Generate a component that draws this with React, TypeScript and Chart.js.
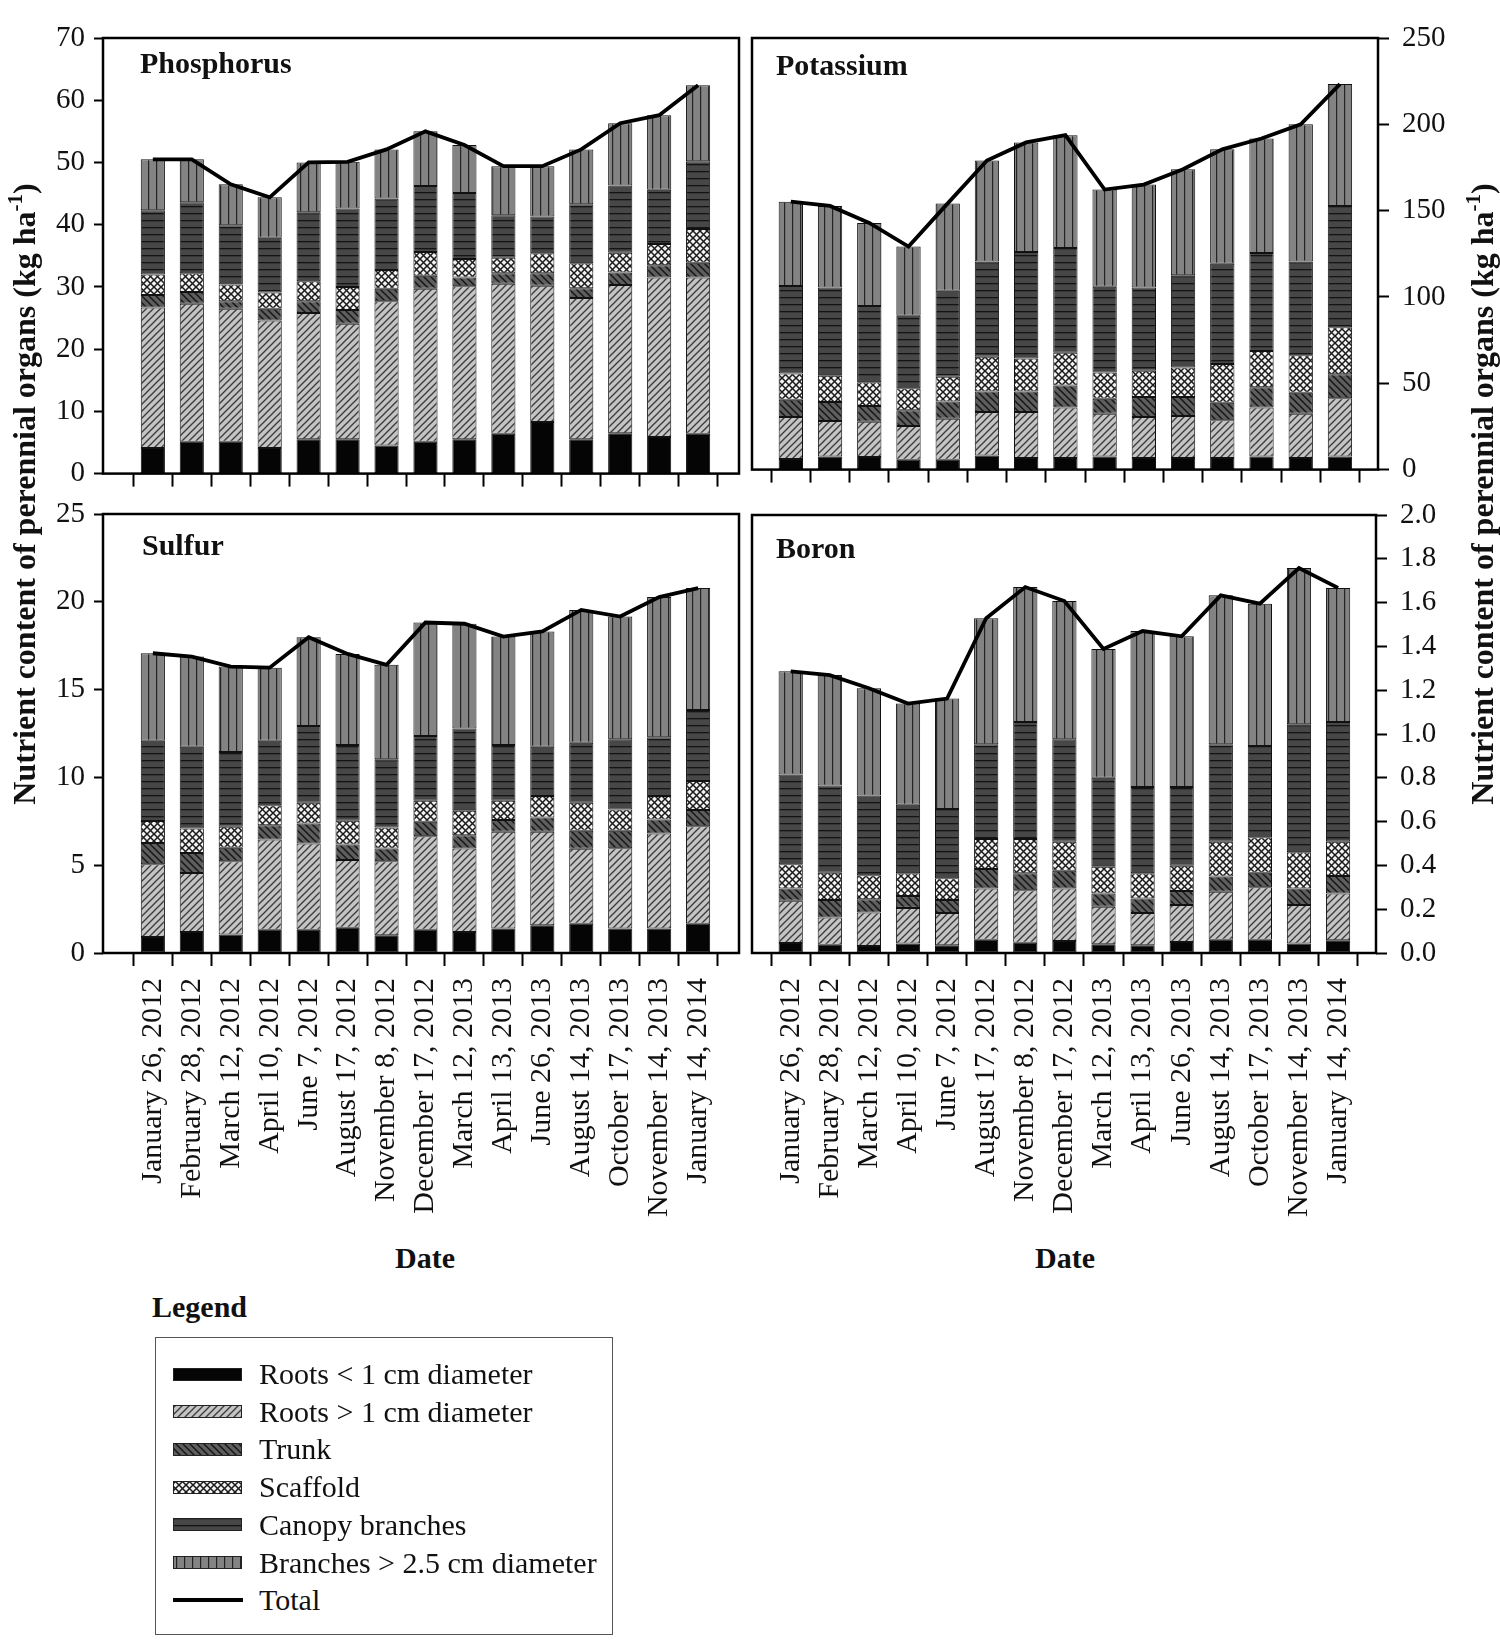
import React, { useEffect, useRef } from "react";
import { Chart, registerables } from "chart.js";
Chart.register(...registerables);

const dates = [
  "January 26, 2012", "February 28, 2012", "March 12, 2012", "April 10, 2012", "June 7, 2012",
  "August 17, 2012", "November 8, 2012", "December 17, 2012", "March 12, 2013", "April 13, 2013",
  "June 26, 2013", "August 14, 2013", "October 17, 2013", "November 14, 2013", "January 14, 2014",
];

const organNames = [
  "Roots < 1 cm diameter", "Roots > 1 cm diameter", "Trunk", "Scaffold",
  "Canopy branches", "Branches > 2.5 cm diameter",
];
const totalName = "Total";

// Phosphorus (kg ha-1)
const pFineRoots = [4.1, 5.1, 5.1, 4.1, 5.5, 5.5, 4.5, 5.1, 5.5, 6.4, 8.3, 5.5, 6.5, 5.9, 6.4];
const pCoarseRoots = [22.6, 22.2, 21.4, 20.5, 20.3, 18.6, 23.2, 24.6, 24.6, 24.1, 21.9, 22.7, 23.8, 25.6, 25.1];
const pTrunk = [2.0, 1.9, 1.2, 1.9, 1.9, 2.2, 2.0, 2.1, 1.4, 1.7, 2.0, 1.6, 2.0, 2.0, 2.4];
const pScaffold = [3.3, 3.0, 2.7, 2.6, 3.2, 3.7, 3.0, 3.8, 3.0, 2.5, 3.2, 4.0, 3.2, 3.4, 5.4];
const pCanopy = [10.3, 11.4, 9.5, 8.8, 11.1, 12.6, 11.5, 10.6, 10.6, 6.8, 5.9, 9.5, 10.8, 8.7, 10.9];
const pBranches = [8.2, 6.9, 6.6, 6.5, 8.0, 7.5, 7.9, 8.8, 7.7, 7.9, 8.1, 8.8, 10.0, 12.0, 12.2];
const pTotal = [50.5, 50.5, 46.5, 44.4, 50.0, 50.1, 52.1, 55.0, 52.8, 49.4, 49.4, 52.1, 56.3, 57.6, 62.4];

// Potassium (kg ha-1)
const kFineRoots = [6.1, 7.6, 7.3, 5.7, 5.7, 8.2, 6.7, 6.7, 7.6, 6.7, 6.7, 6.7, 7.6, 6.7, 7.6];
const kCoarseRoots = [24.4, 20.5, 20.4, 19.5, 23.7, 25.2, 26.7, 29.2, 24.8, 23.8, 24.4, 21.9, 28.3, 25.7, 33.8];
const kTrunk = [10.0, 11.0, 9.1, 9.2, 10.1, 11.8, 11.8, 12.8, 8.6, 11.5, 10.9, 10.1, 11.8, 12.1, 13.9];
const kScaffold = [15.2, 15.3, 13.8, 12.7, 14.3, 20.1, 19.1, 19.0, 15.3, 15.3, 17.2, 22.4, 21.0, 21.7, 27.1];
const kCanopy = [50.6, 51.1, 44.2, 42.0, 49.8, 55.3, 61.7, 60.7, 49.6, 48.2, 53.4, 58.2, 56.7, 54.4, 70.3];
const kBranches = [48.9, 47.2, 48.1, 40.1, 50.6, 58.4, 63.5, 65.3, 56.3, 59.6, 61.4, 66.2, 66.4, 79.4, 70.6];
const kTotal = [155.2, 152.7, 142.9, 129.2, 154.2, 179.0, 189.5, 193.7, 162.2, 165.1, 174.0, 185.5, 191.8, 200.0, 223.3];

// Sulfur (kg ha-1)
const sFineRoots = [0.91, 1.2, 1.06, 1.33, 1.33, 1.44, 1.01, 1.33, 1.2, 1.39, 1.58, 1.67, 1.39, 1.39, 1.67];
const sCoarseRoots = [4.15, 3.36, 4.17, 5.13, 4.91, 3.85, 4.22, 5.32, 4.75, 5.51, 5.32, 4.26, 4.58, 5.42, 5.55];
const sTrunk = [1.21, 1.14, 0.76, 0.82, 1.14, 0.89, 0.72, 0.82, 0.76, 0.67, 0.82, 1.03, 0.99, 0.79, 0.92];
const sScaffold = [1.24, 1.39, 1.2, 1.14, 1.18, 1.35, 1.2, 1.2, 1.39, 1.1, 1.22, 1.6, 1.21, 1.34, 1.65];
const sCanopy = [4.58, 4.66, 4.25, 3.67, 4.37, 4.31, 3.88, 3.69, 4.69, 3.17, 2.81, 3.42, 4.0, 3.34, 4.05];
const sBranches = [4.98, 5.13, 4.87, 4.16, 5.05, 5.19, 5.38, 6.46, 5.96, 6.18, 6.56, 7.56, 6.99, 7.99, 6.94];
const sTotal = [17.07, 16.88, 16.31, 16.25, 17.98, 17.03, 16.41, 18.82, 18.75, 18.02, 18.31, 19.54, 19.16, 20.27, 20.78];

// Boron (kg ha-1)
const bFineRoots = [0.046, 0.038, 0.032, 0.043, 0.035, 0.061, 0.047, 0.055, 0.04, 0.035, 0.05, 0.061, 0.061, 0.043, 0.058];
const bCoarseRoots = [0.193, 0.124, 0.153, 0.163, 0.148, 0.234, 0.24, 0.24, 0.171, 0.148, 0.169, 0.219, 0.239, 0.176, 0.214];
const bTrunk = [0.056, 0.08, 0.061, 0.054, 0.059, 0.089, 0.077, 0.081, 0.061, 0.066, 0.064, 0.069, 0.067, 0.076, 0.08];
const bScaffold = [0.11, 0.125, 0.109, 0.104, 0.099, 0.137, 0.157, 0.132, 0.122, 0.115, 0.115, 0.159, 0.162, 0.165, 0.156];
const bCanopy = [0.41, 0.398, 0.364, 0.313, 0.316, 0.432, 0.534, 0.468, 0.406, 0.394, 0.36, 0.445, 0.416, 0.584, 0.547];
const bBranches = [0.471, 0.504, 0.49, 0.462, 0.505, 0.576, 0.616, 0.631, 0.588, 0.712, 0.688, 0.68, 0.65, 0.714, 0.612];
const bTotal = [1.286, 1.269, 1.209, 1.139, 1.162, 1.529, 1.671, 1.607, 1.388, 1.47, 1.446, 1.633, 1.595, 1.758, 1.667];

const SERIF = '"Liberation Serif", "Times New Roman", serif';

type Kind = "solid" | "fwd" | "back" | "cross" | "horiz" | "vert";
const organKinds: Kind[] = ["solid", "fwd", "back", "cross", "horiz", "vert"];

function makeFill(kind: Kind): CanvasPattern | string {
  if (kind === "solid") return "#050505";
  const w = kind === "vert" ? 8 : kind === "horiz" ? 4 : 7;
  const h = kind === "horiz" ? 7 : kind === "vert" ? 4 : 7;
  const c = document.createElement("canvas");
  c.width = w;
  c.height = h;
  const g = c.getContext("2d")!;
  const bg: Record<string, string> = {
    fwd: "#c4c4c4", back: "#5e5e5e", cross: "#f2f2f2", horiz: "#474747", vert: "#838383",
  };
  g.fillStyle = bg[kind];
  g.fillRect(0, 0, w, h);
  g.lineCap = "square";
  const line = (x1: number, y1: number, x2: number, y2: number) => {
    g.beginPath();
    g.moveTo(x1, y1);
    g.lineTo(x2, y2);
    g.stroke();
  };
  if (kind === "fwd" || kind === "cross") {
    g.strokeStyle = kind === "fwd" ? "#3a3a3a" : "#1a1a1a";
    g.lineWidth = kind === "fwd" ? 1.3 : 1.5;
    line(0, h, w, 0);
    line(-1, 1, 1, -1);
    line(w - 1, h + 1, w + 1, h - 1);
  }
  if (kind === "back" || kind === "cross") {
    g.strokeStyle = kind === "back" ? "#161616" : "#1a1a1a";
    g.lineWidth = 1.5;
    line(0, 0, w, h);
    line(-1, h - 1, 1, h + 1);
    line(w - 1, -1, w + 1, 1);
  }
  if (kind === "horiz") {
    g.fillStyle = "#141414";
    g.fillRect(0, 3, w, 1.3);
  }
  if (kind === "vert") {
    g.fillStyle = "#242424";
    g.fillRect(4, 0, 1.2, h);
  }
  return g.createPattern(c, "repeat")!;
}

interface PanelCfg {
  title: string;
  organs: number[][];
  total: number[];
  yMax: number;
  yStep: number;
  yDec: number;
  yPos: "left" | "right";
  xMin: number;
  xMax: number;
  showLabels: boolean;
  left: number;
  top: number;
  width: number;
  height: number;
  pad: { left: number; right: number; top: number; bottom: number };
  yWidth: number;
  xHeight: number;
  titleDx: number;
  titleDy: number;
}

const panels: PanelCfg[] = [
  {
    title: "Phosphorus",
    organs: [pFineRoots, pCoarseRoots, pTrunk, pScaffold, pCanopy, pBranches],
    total: pTotal, yMax: 70, yStep: 10, yDec: 0, yPos: "left", xMin: -1.28, xMax: 15.05, showLabels: false,
    left: 0, top: 0, width: 750, height: 500, pad: { left: 0, right: 11, top: 38, bottom: 0 },
    yWidth: 103, xHeight: 25, titleDx: 37, titleDy: 35,
  },
  {
    title: "Potassium",
    organs: [kFineRoots, kCoarseRoots, kTrunk, kScaffold, kCanopy, kBranches],
    total: kTotal, yMax: 250, yStep: 50, yDec: 0, yPos: "right", xMin: -0.99, xMax: 14.97, showLabels: false,
    left: 740, top: 0, width: 760, height: 500, pad: { left: 12, right: 0, top: 38, bottom: 0 },
    yWidth: 122, xHeight: 25, titleDx: 24, titleDy: 37,
  },
  {
    title: "Sulfur",
    organs: [sFineRoots, sCoarseRoots, sTrunk, sScaffold, sCanopy, sBranches],
    total: sTotal, yMax: 25, yStep: 5, yDec: 0, yPos: "left", xMin: -1.28, xMax: 15.05, showLabels: true,
    left: 0, top: 470, width: 750, height: 770, pad: { left: 0, right: 11, top: 44, bottom: 0 },
    yWidth: 103, xHeight: 287, titleDx: 39, titleDy: 41,
  },
  {
    title: "Boron",
    organs: [bFineRoots, bCoarseRoots, bTrunk, bScaffold, bCanopy, bBranches],
    total: bTotal, yMax: 2.0, yStep: 0.2, yDec: 1, yPos: "right", xMin: -0.99, xMax: 14.97, showLabels: true,
    left: 740, top: 470, width: 760, height: 770, pad: { left: 12, right: 0, top: 45, bottom: 0 },
    yWidth: 124, xHeight: 287, titleDx: 24, titleDy: 43,
  },
];

function Panel({ cfg }: { cfg: PanelCfg }) {
  const ref = useRef<HTMLCanvasElement>(null);
  useEffect(() => {
    const fills = organKinds.map(makeFill);
    const datasets: any[] = [
      {
        type: "line",
        label: totalName,
        data: cfg.total.map((v, i) => ({ x: i, y: v })),
        borderColor: "#000",
        borderWidth: 3.8,
        pointRadius: 0,
        tension: 0,
        fill: false,
        stack: "total",
        order: 0,
      },
      ...cfg.organs.map((vals, k) => ({
        type: "bar",
        label: organNames[k],
        data: vals.map((v, i) => ({ x: i, y: v })),
        backgroundColor: fills[k],
        borderColor: "#111",
        borderWidth: 1,
        borderSkipped: false,
        stack: "organs",
        barPercentage: 1,
        categoryPercentage: 0.62,
        order: 1,
      })),
    ];
    const left = cfg.yPos === "left";
    const framePlugin = {
      id: "frame",
      afterDraw(chart: any) {
        const { ctx, chartArea: a } = chart;
        ctx.save();
        ctx.strokeStyle = "#000";
        ctx.lineWidth = 2.5;
        ctx.strokeRect(a.left, a.top, a.right - a.left, a.bottom - a.top);
        ctx.font = `bold 30px ${SERIF}`;
        ctx.fillStyle = "#111";
        ctx.textBaseline = "alphabetic";
        ctx.textAlign = "left";
        ctx.fillText(cfg.title, a.left + cfg.titleDx, a.top + cfg.titleDy);
        ctx.restore();
      },
    };
    const chart = new Chart(ref.current!, {
      type: "bar",
      data: { datasets },
      options: {
        responsive: false,
        maintainAspectRatio: false,
        animation: false,
        devicePixelRatio: 1,
        layout: { padding: cfg.pad },
        plugins: { legend: { display: false }, tooltip: { enabled: false }, title: { display: false } },
        scales: {
          x: {
            type: "linear",
            min: cfg.xMin,
            max: cfg.xMax,
            stacked: true,
            offset: false,
            afterBuildTicks: (s: any) => {
              s.ticks = dates.map((_, i) => ({ value: i }));
            },
            afterFit: (s: any) => {
              s.height = cfg.xHeight;
            },
            ticks: {
              display: cfg.showLabels,
              autoSkip: false,
              minRotation: 90,
              maxRotation: 90,
              padding: 12,
              color: "#111",
              font: { family: SERIF, size: 30 },
              callback: (_v: any, i: number) => dates[i],
            },
            grid: {
              display: true,
              drawOnChartArea: false,
              drawTicks: true,
              tickLength: 13,
              tickWidth: 2,
              tickColor: "#000",
            },
            border: { display: false },
          },
          y: {
            type: "linear",
            position: cfg.yPos,
            min: 0,
            max: cfg.yMax,
            stacked: true,
            afterFit: (s: any) => {
              s.width = cfg.yWidth;
            },
            ticks: {
              stepSize: cfg.yStep,
              padding: left ? 9 : 13,
              color: "#111",
              font: { family: SERIF, size: 29 },
              callback: (v: any) => Number(v).toFixed(cfg.yDec),
            },
            grid: {
              display: true,
              drawOnChartArea: false,
              drawTicks: true,
              tickLength: left ? 9 : 11,
              tickWidth: 2,
              tickColor: "#000",
            },
            border: { display: false },
          },
        },
      } as any,
      plugins: [framePlugin],
    });
    return () => chart.destroy();
  }, [cfg]);
  return (
    <canvas
      ref={ref}
      width={cfg.width}
      height={cfg.height}
      style={{ position: "absolute", left: cfg.left, top: cfg.top, width: cfg.width, height: cfg.height }}
    />
  );
}

function Swatch({ kind, line }: { kind?: Kind; line?: boolean }) {
  const ref = useRef<HTMLCanvasElement>(null);
  useEffect(() => {
    const c = ref.current!;
    const g = c.getContext("2d")!;
    g.clearRect(0, 0, c.width, c.height);
    if (line) {
      g.fillStyle = "#000";
      g.fillRect(1, 7, 70, 4);
      return;
    }
    g.fillStyle = makeFill(kind!) as any;
    g.fillRect(1, 3, 69, 13);
    g.strokeStyle = "#222";
    g.lineWidth = 1;
    g.strokeRect(1.5, 3.5, 68, 12);
  }, [kind, line]);
  return <canvas ref={ref} width={72} height={19} style={{ display: "block" }} />;
}

export default function App() {
  useEffect(() => {
    document.body.style.margin = "0";
  }, []);
  const yTitle = (cx: number) => (
    <div
      style={{
        position: "absolute",
        left: cx - 400,
        top: 494 - 17,
        width: 800,
        height: 34,
        lineHeight: "34px",
        textAlign: "center",
        transform: "rotate(-90deg)",
        fontFamily: SERIF,
        fontWeight: "bold",
        fontSize: 32,
        color: "#111",
        whiteSpace: "nowrap",
      }}
    >
      Nutrient content of perennial organs (kg ha
      <sup style={{ fontSize: 21, verticalAlign: "top", position: "relative", top: -9 }}>-1</sup>)
    </div>
  );
  const dateLabel = (cx: number) => (
    <div
      style={{
        position: "absolute",
        left: cx - 100,
        top: 1243,
        width: 200,
        lineHeight: "30px",
        textAlign: "center",
        fontFamily: SERIF,
        fontWeight: "bold",
        fontSize: 30,
        color: "#111",
      }}
    >
      Date
    </div>
  );
  const legendRows = [
    ...organNames.map((n, i) => ({ name: n, kind: organKinds[i], line: false })),
    { name: totalName, kind: undefined as Kind | undefined, line: true },
  ];
  return (
    <div style={{ position: "absolute", left: 0, top: 0, width: 1500, height: 1647, background: "#fff", overflow: "hidden" }}>
      {panels.map((p) => (
        <Panel key={p.title} cfg={p} />
      ))}
      {yTitle(24)}
      {yTitle(1482)}
      {dateLabel(425)}
      {dateLabel(1065)}
      <div
        style={{
          position: "absolute",
          left: 152,
          top: 1292,
          lineHeight: "30px",
          fontFamily: SERIF,
          fontWeight: "bold",
          fontSize: 30,
          color: "#111",
        }}
      >
        Legend
      </div>
      <div
        style={{
          position: "absolute",
          left: 155,
          top: 1337,
          width: 456,
          height: 296,
          border: "1.5px solid #555",
        }}
      >
        {legendRows.map((r, i) => (
          <div
            key={r.name}
            style={{
              position: "absolute",
              left: 16,
              top: 36 + 37.7 * i - 15,
              height: 30,
              display: "flex",
              alignItems: "center",
              whiteSpace: "nowrap",
            }}
          >
            <Swatch kind={r.kind} line={r.line} />
            <span
              style={{
                marginLeft: 15,
                fontFamily: SERIF,
                fontSize: 30,
                lineHeight: "30px",
                color: "#111",
              }}
            >
              {r.name}
            </span>
          </div>
        ))}
      </div>
    </div>
  );
}
